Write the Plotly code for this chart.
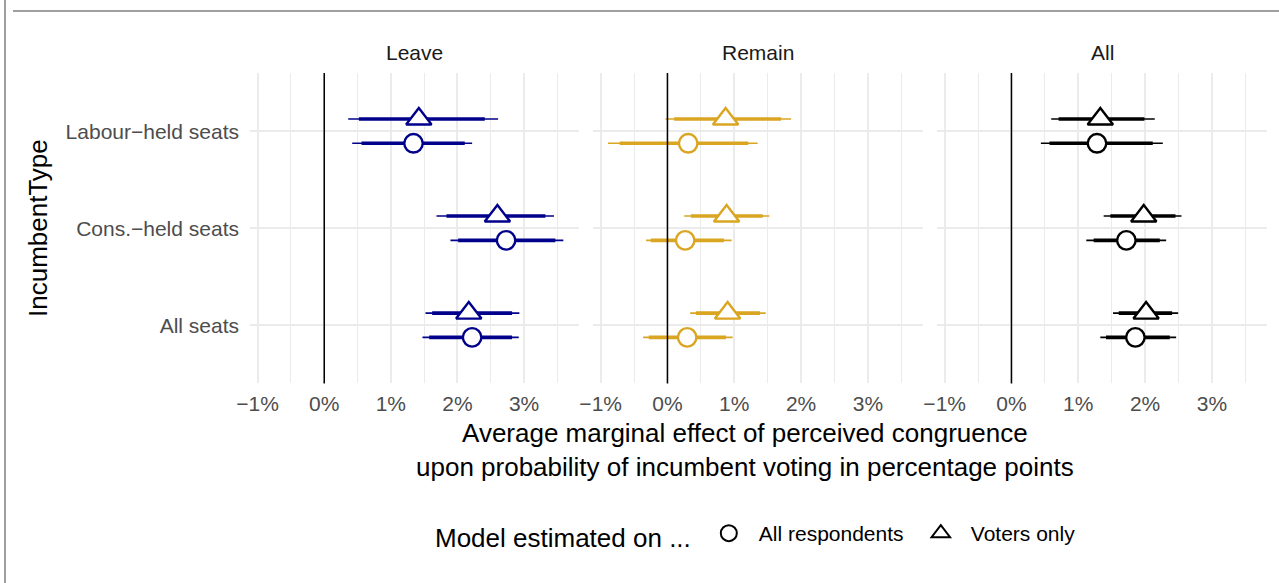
import plotly.graph_objects as go

# ---------------- data ----------------
panels = ["Leave", "Remain", "All"]
panel_colors = ["#00008B", "#DAA520", "#000000"]
incumbent_types = ["Labour\u2212held seats", "Cons.\u2212held seats", "All seats"]
incumbent_pos = [3, 2, 1]
models = ["All respondents", "Voters only"]
model_symbols = ["circle", "triangle-up"]
model_sizes = [18.5, 22]
model_offsets = [-0.125, 0.125]

x_tickvals = [-1, 0, 1, 2, 3]
x_ticktext = ["\u22121%", "0%", "1%", "2%", "3%"]

# estimates per panel, per model (order: Labour, Cons., All seats)
est = {
    ("Leave", "Voters only"): [1.42, 2.60, 2.17],
    ("Leave", "All respondents"): [1.34, 2.73, 2.22],
    ("Remain", "Voters only"): [0.87, 0.885, 0.90],
    ("Remain", "All respondents"): [0.31, 0.265, 0.295],
    ("All", "Voters only"): [1.33, 1.98, 2.015],
    ("All", "All respondents"): [1.28, 1.72, 1.855],
}
lo90 = {
    ("Leave", "Voters only"): [0.52, 1.835, 1.62],
    ("Leave", "All respondents"): [0.56, 2.01, 1.575],
    ("Remain", "Voters only"): [0.10, 0.35, 0.425],
    ("Remain", "All respondents"): [-0.715, -0.25, -0.28],
    ("All", "Voters only"): [0.705, 1.48, 1.605],
    ("All", "All respondents"): [0.57, 1.23, 1.415],
}
hi90 = {
    ("Leave", "Voters only"): [2.41, 3.32, 2.82],
    ("Leave", "All respondents"): [2.11, 3.47, 2.82],
    ("Remain", "Voters only"): [1.70, 1.425, 1.385],
    ("Remain", "All respondents"): [1.21, 0.845, 0.875],
    ("All", "Voters only"): [1.99, 2.455, 2.405],
    ("All", "All respondents"): [2.115, 2.22, 2.37],
}
lo95 = {
    ("Leave", "Voters only"): [0.36, 1.685, 1.52],
    ("Leave", "All respondents"): [0.42, 1.895, 1.475],
    ("Remain", "Voters only"): [-0.03, 0.25, 0.34],
    ("Remain", "All respondents"): [-0.89, -0.32, -0.365],
    ("All", "Voters only"): [0.595, 1.38, 1.52],
    ("All", "All respondents"): [0.44, 1.12, 1.33],
}
hi95 = {
    ("Leave", "Voters only"): [2.61, 3.45, 2.93],
    ("Leave", "All respondents"): [2.22, 3.59, 2.92],
    ("Remain", "Voters only"): [1.85, 1.525, 1.47],
    ("Remain", "All respondents"): [1.35, 0.96, 0.975],
    ("All", "Voters only"): [2.145, 2.545, 2.495],
    ("All", "All respondents"): [2.265, 2.315, 2.465],
}

# ---------------- layout geometry ----------------
W, H = 1279, 583
FONT = "Liberation Sans, Arial, Helvetica, sans-serif"
x_domains_px = [(250, 579), (593, 923), (937, 1267)]
y_top_px, y_bot_px = 73, 383.4
y_domain = [1 - y_bot_px / H, 1 - y_top_px / H]
x_range = [-1.115, 3.825]

fig = go.Figure()

for k, panel in enumerate(panels):
    xa = "x" if k == 0 else f"x{k+1}"
    ya = "y" if k == 0 else f"y{k+1}"
    col = panel_colors[k]
    for m, model in enumerate(models):
        key = (panel, model)
        yy = [p + model_offsets[m] for p in incumbent_pos]
        # thin (95%) lines
        xs, ys = [], []
        for a, b, yv in zip(lo95[key], hi95[key], yy):
            xs += [a, b, None]
            ys += [yv, yv, None]
        fig.add_trace(go.Scatter(x=xs, y=ys, mode="lines", xaxis=xa, yaxis=ya,
                                 line=dict(color=col, width=1.6),
                                 showlegend=False, hoverinfo="skip"))
        # thick (90%) lines
        xs, ys = [], []
        for a, b, yv in zip(lo90[key], hi90[key], yy):
            xs += [a, b, None]
            ys += [yv, yv, None]
        fig.add_trace(go.Scatter(x=xs, y=ys, mode="lines", xaxis=xa, yaxis=ya,
                                 line=dict(color=col, width=3.6),
                                 showlegend=False, hoverinfo="skip"))
    for m, model in enumerate(models):
        key = (panel, model)
        yy = [p + model_offsets[m] for p in incumbent_pos]
        fig.add_trace(go.Scatter(
            x=est[key], y=yy, mode="markers", xaxis=xa, yaxis=ya,
            marker=dict(symbol=model_symbols[m], size=model_sizes[m], color="white",
                        line=dict(color=col, width=2.4)),
            showlegend=False, name=model))

# legend dummy traces
for m, model in enumerate(models):
    fig.add_trace(go.Scatter(
        x=[None], y=[None], mode="markers", name=model,
        marker=dict(symbol=model_symbols[m], size=16, color="white",
                    line=dict(color="black", width=2)),
        showlegend=True))

axis_common = dict(
    range=x_range, tickvals=x_tickvals, ticktext=x_ticktext,
    showgrid=True, gridcolor="#EBEBEB", gridwidth=1.5,
    minor=dict(dtick=0.5, tick0=0, showgrid=True, gridcolor="#EBEBEB", gridwidth=0.8),
    zeroline=False, showline=False, ticks="",
    tickfont=dict(family=FONT, size=21, color="#4D4D4D"),
    ticklabelstandoff=6, fixedrange=True, automargin=False,
)
y_common = dict(
    range=[0.4, 3.6], tickvals=incumbent_pos, ticktext=incumbent_types,
    showgrid=True, gridcolor="#EBEBEB", gridwidth=1.5,
    zeroline=False, showline=False, ticks="", domain=y_domain,
    tickfont=dict(family=FONT, size=21, color="#4D4D4D"),
    ticklabelstandoff=10, fixedrange=True, automargin=False,
)

layout_axes = {}
for k in range(3):
    xname = "xaxis" if k == 0 else f"xaxis{k+1}"
    yname = "yaxis" if k == 0 else f"yaxis{k+1}"
    d = x_domains_px[k]
    layout_axes[xname] = dict(axis_common, domain=[d[0] / W, d[1] / W],
                              anchor="y" if k == 0 else f"y{k+1}")
    layout_axes[yname] = dict(y_common, anchor="x" if k == 0 else f"x{k+1}",
                              showticklabels=(k == 0))

shapes = []
for k in range(3):
    xa = "x" if k == 0 else f"x{k+1}"
    ya = "y" if k == 0 else f"y{k+1}"
    shapes.append(dict(type="line", xref=xa, yref=f"{ya} domain", x0=0, x1=0, y0=0, y1=1,
                       line=dict(color="black", width=1.5), layer="above"))
# page frame lines
shapes.append(dict(type="line", xref="paper", yref="paper", x0=5 / W, x1=5 / W, y0=0, y1=1,
                   line=dict(color="#7F7F7F", width=1.5)))
shapes.append(dict(type="line", xref="paper", yref="paper", x0=13 / W, x1=1, y0=1 - 11 / H,
                   y1=1 - 11 / H, line=dict(color="#7F7F7F", width=1.5)))

annotations = []
for k, panel in enumerate(panels):
    d = x_domains_px[k]
    annotations.append(dict(text=panel, xref="paper", yref="paper",
                            x=(d[0] + d[1]) / 2 / W, y=1 - 52 / H,
                            xanchor="center", yanchor="middle", showarrow=False,
                            font=dict(family=FONT, size=21, color="#1A1A1A")))
annotations.append(dict(text="IncumbentType", xref="paper", yref="paper",
                        x=38 / W, y=1 - 228 / H, textangle=-90,
                        xanchor="center", yanchor="middle", showarrow=False,
                        font=dict(family=FONT, size=26, color="black")))
annotations.append(dict(text="Average marginal effect of perceived congruence<br>"
                             "upon probability of incumbent voting in percentage points",
                        xref="paper", yref="paper", x=745 / W, y=1 - 450 / H,
                        xanchor="center", yanchor="middle", showarrow=False,
                        font=dict(family=FONT, size=26, color="black")))

fig.update_layout(
    width=W, height=H, autosize=False,
    margin=dict(l=0, r=0, t=0, b=0, autoexpand=False),
    paper_bgcolor="white", plot_bgcolor="white",
    showlegend=True,
    legend=dict(orientation="h", x=778 / W, xanchor="center", y=1 - 535 / H, yanchor="middle",
                title=dict(text="Model estimated on ...", side="left",
                           font=dict(family=FONT, size=26, color="black")),
                font=dict(family=FONT, size=21, color="black"),
                itemsizing="trace", itemwidth=50, entrywidth=147, entrywidthmode="pixels",
                bgcolor="rgba(0,0,0,0)"),
    shapes=shapes, annotations=annotations,
    font=dict(family=FONT),
    **layout_axes,
)

fig.write_html(
    "out.html",
    config={"displayModeBar": False},
    post_script="document.body.style.margin='0';document.body.style.overflow='hidden';",
)
